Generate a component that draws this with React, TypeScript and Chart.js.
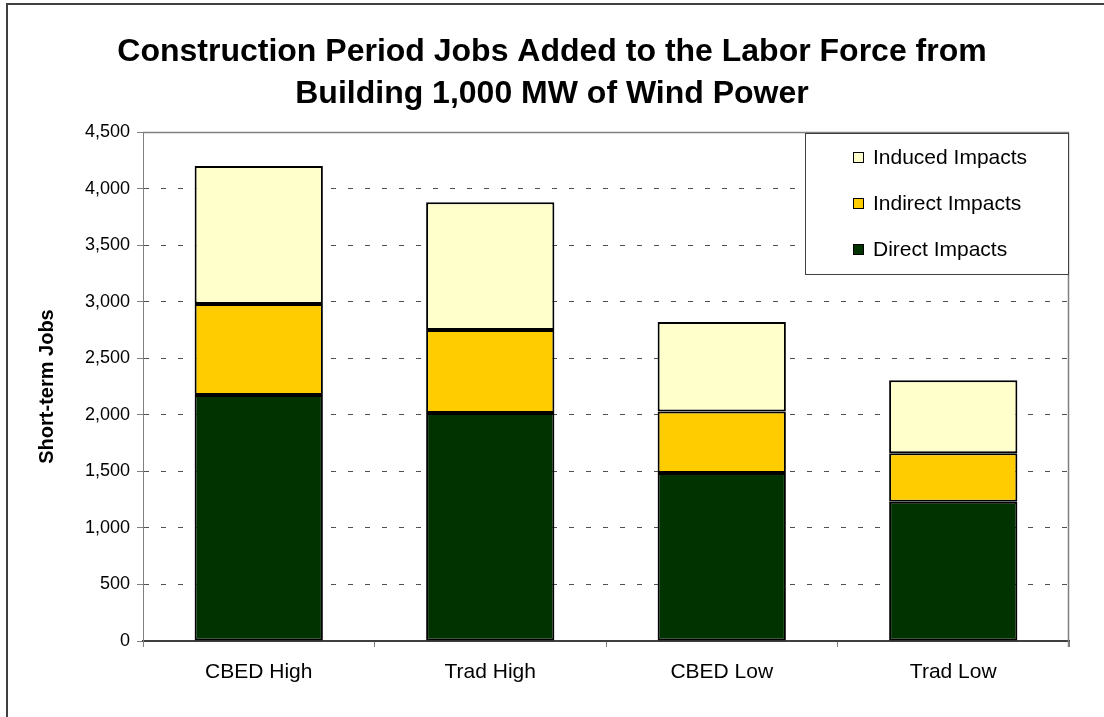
import React, { useEffect, useRef } from "react";
import { Chart, registerables } from "chart.js";

Chart.register(...registerables);

const categories = ["CBED High", "Trad High", "CBED Low", "Trad Low"];
const directImpacts = [2175, 2015, 1485, 1230];
const indirectImpacts = [805, 735, 545, 430];
const inducedImpacts = [1220, 1130, 790, 645];
const seriesNames = ["Direct Impacts", "Indirect Impacts", "Induced Impacts"];
const titleLines = [
  "Construction Period Jobs Added to the Labor Force from",
  "Building 1,000 MW of Wind Power",
];
const yAxisTitle = "Short-term Jobs";
const yMin = 0;
const yMax = 4500;
const yStep = 500;

const FONT = "'Liberation Sans', Arial, sans-serif";

const framePlugin = {
  id: "frame",
  beforeDraw(chart: any) {
    const ctx = chart.ctx;
    ctx.save();
    ctx.fillStyle = "#ffffff";
    ctx.fillRect(0, 0, chart.width, chart.height);
    ctx.strokeStyle = "#404040";
    ctx.lineWidth = 2;
    ctx.beginPath();
    ctx.moveTo(7, chart.height + 5);
    ctx.lineTo(7, 4);
    ctx.lineTo(chart.width + 5, 4);
    ctx.stroke();
    ctx.restore();
  },
  afterDatasetsDraw(chart: any) {
    const { ctx, chartArea } = chart;
    ctx.save();
    ctx.strokeStyle = "#808080";
    ctx.lineWidth = 1.5;
    ctx.beginPath();
    ctx.moveTo(chartArea.left, chartArea.top + 0.5);
    ctx.lineTo(chartArea.right - 0.5, chartArea.top + 0.5);
    ctx.lineTo(chartArea.right - 0.5, chartArea.bottom + 6);
    ctx.stroke();
    ctx.restore();
  },
};

const legendPlugin = {
  id: "boxLegend",
  afterDraw(chart: any) {
    const { ctx, chartArea } = chart;
    const boxW = 264;
    const boxH = 142;
    const x0 = chartArea.right - boxW;
    const y0 = chartArea.top + 1;
    ctx.save();
    ctx.fillStyle = "#ffffff";
    ctx.fillRect(x0, y0, boxW, boxH);
    ctx.strokeStyle = "#404040";
    ctx.lineWidth = 1;
    ctx.strokeRect(x0 + 0.5, y0 + 0.5, boxW - 1, boxH - 1);
    const ds = chart.data.datasets.slice().reverse();
    ctx.font = `21px ${FONT}`;
    ctx.textBaseline = "middle";
    ctx.textAlign = "left";
    ds.forEach((d: any, i: number) => {
      const cy = y0 + 24 + i * 46;
      const sx = x0 + 48;
      ctx.fillStyle = d.backgroundColor;
      ctx.fillRect(sx, cy - 5, 11, 11);
      ctx.strokeStyle = "#000000";
      ctx.lineWidth = 1;
      ctx.strokeRect(sx + 0.5, cy - 4.5, 10, 10);
      ctx.fillStyle = "#000000";
      ctx.fillText(d.label, x0 + 68, cy + 1);
    });
    ctx.restore();
  },
};

export default function App() {
  const ref = useRef<HTMLCanvasElement | null>(null);

  useEffect(() => {
    if (!ref.current) return;
    const barOpts = {
      borderColor: "#000000",
      borderWidth: 2,
      borderSkipped: false,
      categoryPercentage: 1,
      barPercentage: 0.554,
    };
    const chart = new Chart(ref.current, {
      type: "bar",
      data: {
        labels: categories,
        datasets: [
          { label: seriesNames[0], data: directImpacts, backgroundColor: "#003300", ...barOpts },
          { label: seriesNames[1], data: indirectImpacts, backgroundColor: "#FFCC00", ...barOpts },
          { label: seriesNames[2], data: inducedImpacts, backgroundColor: "#FFFFCC", ...barOpts },
        ],
      },
      options: {
        responsive: false,
        animation: false,
        devicePixelRatio: 1,
        layout: { padding: { left: 35, right: 35, top: 0, bottom: 0 } },
        plugins: {
          legend: { display: false },
          tooltip: { enabled: false },
          title: {
            display: true,
            text: titleLines,
            color: "#000000",
            font: { family: FONT, size: 32, weight: "bold", lineHeight: 42 / 32 },
            padding: { top: 31, bottom: 17 },
          },
        },
        scales: {
          x: {
            stacked: true,
            afterFit(scale: any) {
              scale.height = 76;
            },
            grid: {
              display: true,
              drawOnChartArea: false,
              drawTicks: true,
              tickLength: 6,
              tickColor: "#808080",
              offset: true,
            },
            border: { display: true, color: "#404040", width: 2 },
            ticks: {
              color: "#000000",
              padding: 13,
              font: { family: FONT, size: 21 },
            },
          },
          y: {
            stacked: true,
            min: yMin,
            max: yMax,
            afterFit(scale: any) {
              scale.width = 108;
            },
            grid: {
              color: "#505050",
              lineWidth: 1,
              drawTicks: true,
              tickLength: 6,
              tickColor: "#808080",
              tickBorderDash: [],
            },
            border: { display: true, color: "#808080", width: 1, dash: [5, 12] },
            ticks: {
              stepSize: yStep,
              color: "#000000",
              padding: 7,
              font: { family: FONT, size: 18 },
              callback: (v: any) => Number(v).toLocaleString("en-US"),
            },
            title: {
              display: true,
              text: yAxisTitle,
              color: "#000000",
              font: { family: FONT, size: 20, weight: "bold" },
              padding: { top: 0, bottom: 0 },
            },
          },
        },
      },
      plugins: [framePlugin, legendPlugin],
    } as any);
    return () => chart.destroy();
  }, []);

  return (
    <div style={{ position: "fixed", left: 0, top: 0, width: 1104, height: 717 }}>
      <canvas ref={ref} width={1104} height={717} style={{ display: "block" }} />
    </div>
  );
}
